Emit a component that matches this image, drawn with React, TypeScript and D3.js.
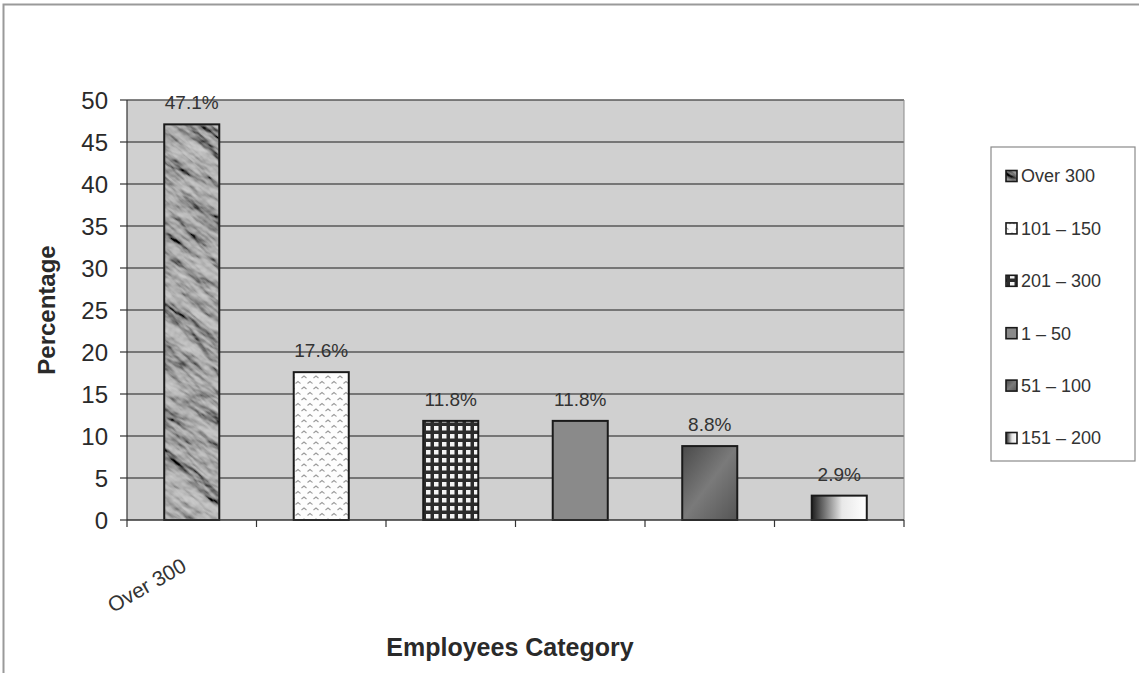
import React from "react";
import * as d3 from "d3";

const categories = ["Over 300", "101 – 150", "201 – 300", "1 – 50", "51 – 100", "151 – 200"];
const values = [47.1, 17.6, 11.8, 11.8, 8.8, 2.9];
const yTicks = [0, 5, 10, 15, 20, 25, 30, 35, 40, 45, 50];
const legendLabels = ["Over 300", "101 – 150", "201 – 300", "1 – 50", "51 – 100", "151 – 200"];
const shownTickLabels = ["Over 300"];

const W = 1139;
const H = 673;
const plot = { left: 127, right: 904, top: 100, bottom: 520 };
const font = "'Liberation Sans', Arial, sans-serif";
const TILE = 1400;

// fill for each category
const fills = ["url(#crumple)", "url(#zigzag)", "url(#checker)", "#8a8a8a", "url(#diag)", "url(#horiz)"];

export default function App() {
  const x = d3
    .scaleBand<string>()
    .domain(categories)
    .range([plot.left, plot.right])
    .paddingInner(0.575)
    .paddingOuter(0.2875);
  const y = d3.scaleLinear().domain([0, 50]).range([plot.bottom, plot.top]);
  const step = x.step();
  const boundaries = d3.range(categories.length + 1).map((i) => plot.left + i * step);

  const legendX = 991;
  const legendTop = 147;
  const legendBottom = 461;
  const legendRowY = (i: number) => 176 + i * 52.4;

  return (
    <svg
      width={W}
      height={H}
      style={{ position: "absolute", left: 0, top: 0, background: "#fff" }}
      fontFamily={font}
    >
      <defs>
        {/* crumpled-paper texture: lit fractal noise, in grey */}
        <filter id="crumpleFx" x={0} y={0} width={TILE} height={TILE} filterUnits="userSpaceOnUse">
          <feTurbulence type="fractalNoise" baseFrequency="0.012 0.035" numOctaves={5} seed={23} result="noise" />
          <feDiffuseLighting in="noise" surfaceScale={7} lightingColor="#ffffff" diffuseConstant={1} result="lit">
            <feDistantLight azimuth={225} elevation={45} />
          </feDiffuseLighting>
          <feColorMatrix
            in="lit"
            type="matrix"
            values="0.33 0.33 0.33 0 0  0.33 0.33 0.33 0 0  0.33 0.33 0.33 0 0  0 0 0 0 1"
            result="gray"
          />
          <feComponentTransfer in="gray" result="tone">
            <feFuncR type="linear" slope={0.95} intercept={-0.28} />
            <feFuncG type="linear" slope={0.95} intercept={-0.28} />
            <feFuncB type="linear" slope={0.95} intercept={-0.28} />
          </feComponentTransfer>
          <feComposite in="tone" in2="SourceGraphic" operator="in" />
        </filter>
        <pattern
          id="crumple"
          patternUnits="userSpaceOnUse"
          width={TILE}
          height={TILE}
          patternTransform="rotate(40)"
        >
          <rect width={TILE} height={TILE} fill="#999" filter="url(#crumpleFx)" />
        </pattern>
        <pattern id="zigzag" patternUnits="userSpaceOnUse" width={12} height={11}>
          <rect width={12} height={11} fill="#fdfdfd" />
          <path d="M1.5,4 L4,2 L6.5,4" fill="none" stroke="#9a9a9a" strokeWidth={1.1} />
          <path d="M7.5,9.5 L10,7.5 L12.5,9.5 M-4.5,9.5 L-2,7.5 L0.5,9.5" fill="none" stroke="#9a9a9a" strokeWidth={1.1} />
        </pattern>
        <pattern id="checker" patternUnits="userSpaceOnUse" width={8} height={8}>
          <rect width={8} height={8} fill="#2c2c2c" />
          <rect x={2} y={2} width={4.5} height={4.5} fill="#f4f4f4" />
        </pattern>
        <linearGradient id="diag" x1="0" y1="0" x2="1" y2="1">
          <stop offset="0" stopColor="#4a4a4a" />
          <stop offset="0.5" stopColor="#7a7a7a" />
          <stop offset="1" stopColor="#555" />
        </linearGradient>
        <linearGradient id="horiz" x1="0" y1="0" x2="1" y2="0">
          <stop offset="0" stopColor="#1e1e1e" />
          <stop offset="0.55" stopColor="#e8e8e8" />
          <stop offset="1" stopColor="#ffffff" />
        </linearGradient>
      </defs>

      {/* outer frame */}
      <path d="M3.5,673 L3.5,4.5 L1139,4.5" fill="none" stroke="#9a9a9a" strokeWidth={2} />

      {/* plot area */}
      <rect
        x={plot.left}
        y={plot.top}
        width={plot.right - plot.left}
        height={plot.bottom - plot.top}
        fill="#d0d0d0"
      />
      {yTicks
        .filter((t) => t > 0)
        .map((t) => (
          <line key={t} x1={plot.left} x2={plot.right} y1={y(t)} y2={y(t)} stroke="#585858" strokeWidth={1.3} />
        ))}
      <line x1={plot.right} x2={plot.right} y1={plot.top} y2={plot.bottom} stroke="#8a8a8a" strokeWidth={1} />

      {/* bars */}
      {categories.map((c, i) => (
        <rect
          key={c}
          x={x(c)}
          y={y(values[i])}
          width={x.bandwidth()}
          height={y(0) - y(values[i])}
          fill={fills[i]}
          stroke="#1a1a1a"
          strokeWidth={2}
        />
      ))}

      {/* value labels */}
      {categories.map((c, i) => (
        <text
          key={c}
          x={(x(c) as number) + x.bandwidth() / 2}
          y={y(values[i]) - 15}
          textAnchor="middle"
          fontSize={19}
          fill="#333"
        >
          {values[i].toFixed(1)}%
        </text>
      ))}

      {/* axes */}
      <line x1={plot.left} x2={plot.left} y1={plot.top} y2={plot.bottom} stroke="#333" strokeWidth={1.2} />
      <line x1={plot.left} x2={plot.right} y1={plot.bottom} y2={plot.bottom} stroke="#333" strokeWidth={1.5} />
      {yTicks.map((t) => (
        <g key={t}>
          <line x1={plot.left - 7} x2={plot.left} y1={y(t)} y2={y(t)} stroke="#333" strokeWidth={1.2} />
          <text x={108} y={y(t)} dy="0.36em" textAnchor="end" fontSize={24} fill="#2a2a2a">
            {t}
          </text>
        </g>
      ))}
      {boundaries.map((b, i) => (
        <line key={i} x1={b} x2={b} y1={plot.bottom} y2={plot.bottom + 7} stroke="#333" strokeWidth={1.2} />
      ))}
      {shownTickLabels.map((c) => {
        const cx = (x(c) as number) + x.bandwidth() / 2 - 4;
        return (
          <text
            key={c}
            transform={`translate(${cx},${plot.bottom + 50}) rotate(-30)`}
            textAnchor="end"
            fontSize={21}
            fill="#333"
          >
            {c}
          </text>
        );
      })}

      {/* axis titles */}
      <text
        transform={`translate(55,${(plot.top + plot.bottom) / 2}) rotate(-90)`}
        textAnchor="middle"
        fontSize={24}
        fontWeight="bold"
        fill="#2a2a2a"
      >
        Percentage
      </text>
      <text x={510} y={656} textAnchor="middle" fontSize={25} fontWeight="bold" fill="#2a2a2a">
        Employees Category
      </text>

      {/* legend */}
      <rect
        x={legendX}
        y={legendTop}
        width={1135 - legendX}
        height={legendBottom - legendTop}
        fill="#fff"
        stroke="#8a8a8a"
        strokeWidth={1.2}
      />
      {legendLabels.map((l, i) => (
        <g key={l}>
          <rect
            x={legendX + 15}
            y={legendRowY(i) - 5.5}
            width={11}
            height={11}
            fill={fills[categories.indexOf(l)]}
            stroke="#1a1a1a"
            strokeWidth={1.6}
          />
          <text x={legendX + 30} y={legendRowY(i)} dy="0.36em" fontSize={18} fill="#333">
            {l}
          </text>
        </g>
      ))}
    </svg>
  );
}
